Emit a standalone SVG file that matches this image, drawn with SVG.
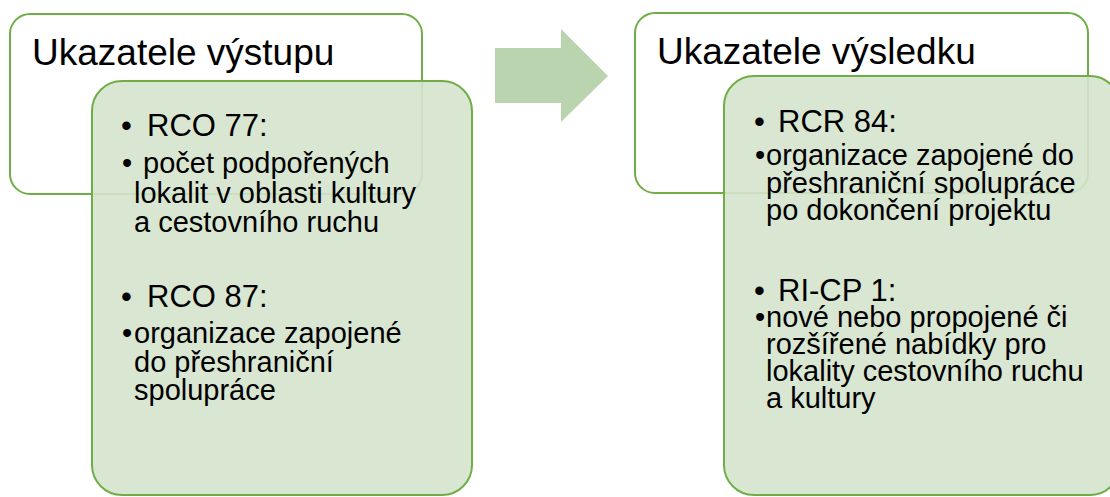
<svg xmlns="http://www.w3.org/2000/svg" width="1110" height="497" viewBox="0 0 1110 497">
  <style>
    .outer { fill: #ffffff; stroke: #70ad47; stroke-width: 2; }
    .inner { fill: #d5e3cd; fill-opacity: 0.9; stroke: #70ad47; stroke-width: 2; }
    .arrow { fill: #bad4b0; }
    text { font-family: "Liberation Sans", Arial, sans-serif; fill: #000000; }
    .title { font-size: 37px; }
    .head { font-size: 31px; }
    .body { font-size: 29px; }
  </style>

  <!-- left: output indicators -->
  <g id="vystup">
    <rect class="outer" x="10" y="14" width="412" height="180" rx="20" ry="20"/>
    <text class="title" x="32" y="65">Ukazatele výstupu</text>
  </g>
  <g id="vystup-detail">
    <rect class="inner" x="92" y="81" width="380" height="414" rx="30" ry="30"/>
    <text class="head" x="121" y="136">•</text>
    <text class="head" x="147" y="136">RCO 77:</text>
    <text class="body" x="122" y="173">•</text>
    <text class="body" x="143" y="173">počet podpořených</text>
    <text class="body" x="134" y="203">lokalit v oblasti kultury</text>
    <text class="body" x="134" y="232">a cestovního ruchu</text>
    <text class="head" x="121" y="307">•</text>
    <text class="head" x="147" y="307">RCO 87:</text>
    <text class="body" x="122" y="343">•</text>
    <text class="body" x="134" y="343">organizace zapojené</text>
    <text class="body" x="134" y="372">do přeshraniční</text>
    <text class="body" x="134" y="400">spolupráce</text>
  </g>

  <!-- transition arrow -->
  <g id="connectors">
    <polygon class="arrow" points="495,48 561,48 561,29 608,76 561,122 561,103 495,103"/>
  </g>

  <!-- right: result indicators -->
  <g id="vysledek">
    <rect class="outer" x="635" y="13" width="453" height="180" rx="20" ry="20"/>
    <text class="title" x="657" y="64">Ukazatele výsledku</text>
  </g>
  <g id="vysledek-detail">
    <rect class="inner" x="724" y="76" width="396" height="419" rx="30" ry="30"/>
    <text class="head" x="754" y="132">•</text>
    <text class="head" x="778" y="132">RCR 84:</text>
    <text class="body" x="755" y="165">•</text>
    <text class="body" x="766" y="165">organizace zapojené do</text>
    <text class="body" x="766" y="193">přeshraniční spolupráce</text>
    <text class="body" x="766" y="220">po dokončení projektu</text>
    <text class="head" x="754" y="301">•</text>
    <text class="head" x="778" y="301">RI-CP 1:</text>
    <text class="body" x="755" y="327">•</text>
    <text class="body" x="766" y="327">nové nebo propojené či</text>
    <text class="body" x="766" y="354">rozšířené nabídky pro</text>
    <text class="body" x="766" y="381">lokality cestovního ruchu</text>
    <text class="body" x="766" y="408">a kultury</text>
  </g>
</svg>
